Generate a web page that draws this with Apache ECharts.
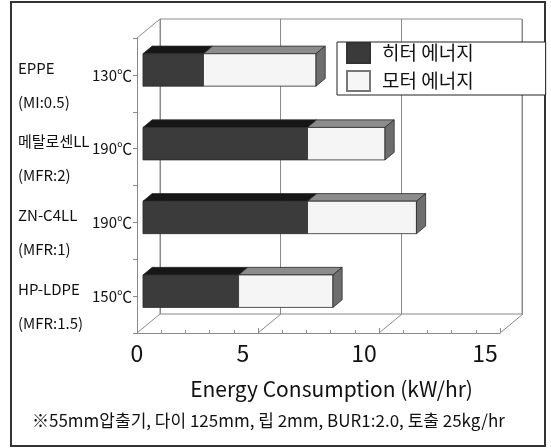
<!DOCTYPE html>
<html>
<head>
<meta charset="utf-8">
<script src="https://cdn.jsdelivr.net/npm/echarts@6/dist/echarts.min.js"></script>
<style>html,body{margin:0;padding:0;background:#fff;}#c{width:551px;height:448px;}</style>
</head>
<body>
<div id="c"></div>
<script>
// ---- data ----
const categories = ['EPPE', '메탈로센LL', 'ZN-C4LL', 'HP-LDPE'];
const subLabels = ['(MI:0.5)', '(MFR:2)', '(MFR:1)', '(MFR:1.5)'];
const temps = ['130℃', '190℃', '190℃', '150℃'];
const seriesNames = ['히터 에너지', '모터 에너지'];
const heater = [2.5, 6.8, 6.8, 3.95];
const motor = [4.65, 3.2, 4.5, 3.9];
const floorLines = [0, 5, 10, 15];
const xMin = 0, xMax = 15, xInterval = 5;
const footnote = '※55mm압출기, 다이 125mm, 립 2mm, BUR1:2.0, 토출 25kg/hr';
const axisTitle = 'Energy Consumption (kW/hr)';

// ---- layout ----
const FONT = '"Noto Sans CJK KR", "Noto Sans", sans-serif';
const G0 = {left: 137, top: 38, width: 363, height: 295};   // front plane
const G1 = {left: 160, top: 19, width: 362, height: 295};   // back wall
const DX = G1.left - G0.left, DY = G1.top - G0.top;
const F0 = 0.26, F1 = 0.66;
const LINE = '#8a8a8a';

function barRender(isLast, front, top, side) {
  return function (params, api) {
    const cat = api.value(0), s = api.value(1), e = api.value(2);
    const p0 = api.coord([s, cat]), p1 = api.coord([e, cat]);
    const h = api.size([0, 1])[1] * 0.44;
    const fx = DX * F0, fy = DY * F0;
    const ddx = DX * (F1 - F0), ddy = DY * (F1 - F0);
    const x0 = p0[0] + fx, x1 = p1[0] + fx;
    const yT = p0[1] + fy - h / 2, yB = yT + h;
    const st = {stroke: '#2a2a2a', lineWidth: 0.8};
    const children = [
      {type: 'polygon', shape: {points: [[x0, yT], [x1, yT], [x1 + ddx, yT + ddy], [x0 + ddx, yT + ddy]]},
       style: Object.assign({fill: top}, st)},
      {type: 'rect', shape: {x: x0, y: yT, width: x1 - x0, height: h}, style: Object.assign({fill: front}, st)}
    ];
    if (isLast) {
      children.push({type: 'polygon', shape: {points: [[x1, yT], [x1 + ddx, yT + ddy], [x1 + ddx, yB + ddy], [x1, yB]]},
        style: Object.assign({fill: side}, st)});
    }
    return {type: 'group', children: children};
  };
}

function frameRender(params, api) {
  const cs = params.coordSys;
  const v = api.value(0);
  const x = api.coord([v, 0])[0];
  const yb = cs.y + cs.height;
  const children = [{type: 'line', shape: {x1: x, y1: yb, x2: x + DX, y2: yb + DY}, style: {stroke: LINE, lineWidth: 1}}];
  if (params.dataIndex === 0) {
    children.push({type: 'line', shape: {x1: cs.x, y1: cs.y, x2: cs.x + DX, y2: cs.y + DY}, style: {stroke: LINE, lineWidth: 1}});
  }
  return {type: 'group', children: children};
}

const chart = echarts.init(document.getElementById('c'));
chart.setOption({
  animation: false,
  backgroundColor: '#fff',
  title: {
    text: footnote, left: 27, top: 407,
    textStyle: {fontFamily: FONT, fontSize: 17, fontWeight: 'normal', color: '#111'}
  },
  graphic: [{
    type: 'rect', shape: {x: 11, y: 2, width: 534, height: 444},
    style: {fill: 'none', stroke: '#333', lineWidth: 2}, z: -1
  }],
  legend: {
    orient: 'vertical', left: 337, top: 42,
    padding: [0, 72, 3, 9], itemGap: 6, itemWidth: 23, itemHeight: 20,
    icon: 'rect',
    borderColor: '#222', borderWidth: 1, backgroundColor: '#fff',
    data: seriesNames,
    textStyle: {fontFamily: FONT, fontSize: 19, lineHeight: 20, color: '#111', padding: [0, 0, 0, 7]},
    z: 20
  },
  grid: [
    Object.assign({containLabel: false}, G0),
    Object.assign({show: true, borderColor: LINE, borderWidth: 1, backgroundColor: 'transparent'}, G1)
  ],
  xAxis: [{
    type: 'value', gridIndex: 0, min: xMin, max: xMax, interval: xInterval,
    axisLine: {show: true, lineStyle: {color: LINE, width: 1}},
    axisTick: {show: true, inside: true, length: 5, lineStyle: {color: LINE}},
    minorTick: {show: true, splitNumber: 5, length: 3, lineStyle: {color: LINE}},
    splitLine: {show: false},
    axisLabel: {
      margin: 9, align: 'center',
      formatter: function (v) { return v === xMin ? '{z|' + v + '}' : '{d|' + v + '}'; },
      rich: {
        z: {fontFamily: FONT, fontSize: 23, color: '#111'},
        d: {fontFamily: FONT, fontSize: 23, color: '#111', padding: [0, 30, 0, 0]}
      }
    },
    name: axisTitle, nameLocation: 'middle', nameGap: 46,
    nameTextStyle: {fontFamily: FONT, fontSize: 21, color: '#111', padding: [0, 0, 0, 26]}
  }, {
    type: 'value', gridIndex: 1, min: xMin, max: xMax, interval: xInterval,
    axisLine: {show: false}, axisTick: {show: false}, axisLabel: {show: false},
    splitLine: {show: true, lineStyle: {color: LINE, width: 1}}
  }],
  yAxis: [{
    type: 'category', gridIndex: 0, inverse: true, data: temps,
    axisLine: {show: true, lineStyle: {color: LINE, width: 1}},
    axisTick: {show: true, alignWithLabel: true, length: 4, lineStyle: {color: LINE}},
    axisLabel: {fontFamily: FONT, fontSize: 15, color: '#111', margin: 5}
  }, {
    type: 'category', gridIndex: 0, inverse: true, data: categories, position: 'left',
    axisLine: {show: false},
    axisTick: {show: true, length: 4, lineStyle: {color: LINE}},
    axisLabel: {
      margin: 119, align: 'left', verticalAlign: 'middle', padding: [20, 0, 0, 0],
      formatter: function (v, i) { return '{n|' + v + '}\n{n|' + subLabels[i] + '}'; },
      rich: {n: {fontFamily: FONT, fontSize: 15, color: '#111', lineHeight: 34}}
    }
  }, {
    type: 'value', gridIndex: 1, show: false
  }],
  series: [{
    type: 'custom', name: 'frame', xAxisIndex: 0, yAxisIndex: 0, silent: true,
    renderItem: frameRender, data: floorLines.map(v => [v]), encode: {x: 0}, z: 1
  }, {
    type: 'custom', name: seriesNames[0], xAxisIndex: 0, yAxisIndex: 0,
    itemStyle: {color: '#3a3a3a', borderColor: '#333', borderWidth: 1},
    renderItem: barRender(false, '#3b3b3b', '#161616', '#555'),
    data: heater.map((v, i) => [i, 0, v]), encode: {x: [1, 2], y: 0}, z: 5
  }, {
    type: 'custom', name: seriesNames[1], xAxisIndex: 0, yAxisIndex: 0,
    itemStyle: {color: '#f6f6f6', borderColor: '#777', borderWidth: 1},
    renderItem: barRender(true, '#f5f5f5', '#8c8c8c', '#6e6e6e'),
    data: motor.map((v, i) => [i, heater[i], heater[i] + v]), encode: {x: [1, 2], y: 0}, z: 5
  }]
});
</script>
</body>
</html>
